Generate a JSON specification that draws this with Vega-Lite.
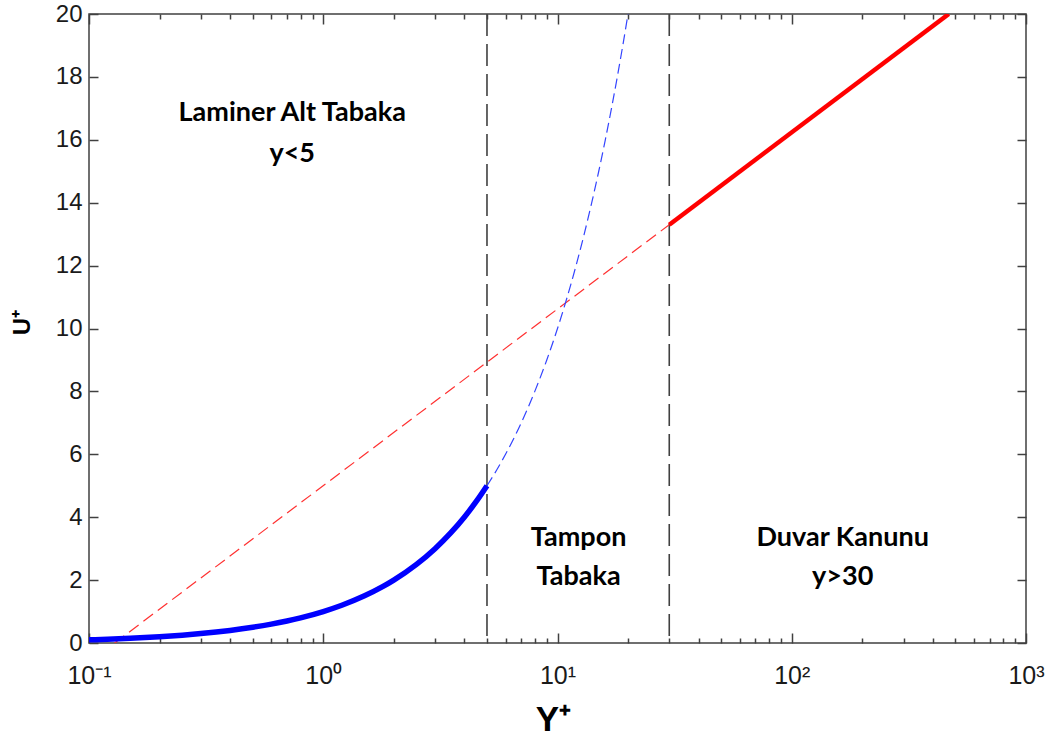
{
  "$schema": "https://vega.github.io/schema/vega-lite/v6.json",
  "width": 937,
  "height": 629,
  "autosize": {"type": "none"},
  "padding": {"left": 89, "top": 14, "right": 26, "bottom": 95},
  "background": "white",
  "config": {
    "view": {"stroke": "#404040", "strokeWidth": 1.5},
    "axis": {
      "domain": false,
      "grid": false,
      "tickColor": "#404040",
      "tickWidth": 1.5,
      "labelFont": "Liberation Sans",
      "labelFontSize": 24,
      "labelColor": "#1a1a1a",
      "titleFont": "Liberation Sans",
      "titleFontWeight": "bold",
      "titleColor": "#000000"
    }
  },
  "resolve": {"axis": {"x": "independent", "y": "independent"}},
  "datasets": {
    "viscous": [
      {"yplus": 0.1, "uplus": 0.1}, {"yplus": 0.12, "uplus": 0.12}, {"yplus": 0.15, "uplus": 0.15},
      {"yplus": 0.2, "uplus": 0.2}, {"yplus": 0.25, "uplus": 0.25}, {"yplus": 0.3, "uplus": 0.3},
      {"yplus": 0.4, "uplus": 0.4}, {"yplus": 0.5, "uplus": 0.5}, {"yplus": 0.6, "uplus": 0.6},
      {"yplus": 0.7, "uplus": 0.7}, {"yplus": 0.8, "uplus": 0.8}, {"yplus": 1, "uplus": 1},
      {"yplus": 1.2, "uplus": 1.2}, {"yplus": 1.5, "uplus": 1.5}, {"yplus": 1.8, "uplus": 1.8},
      {"yplus": 2, "uplus": 2}, {"yplus": 2.5, "uplus": 2.5}, {"yplus": 3, "uplus": 3},
      {"yplus": 3.5, "uplus": 3.5}, {"yplus": 4, "uplus": 4}, {"yplus": 4.5, "uplus": 4.5},
      {"yplus": 5, "uplus": 5}
    ],
    "viscousExt": [
      {"yplus": 5, "uplus": 5}, {"yplus": 5.5, "uplus": 5.5}, {"yplus": 6, "uplus": 6},
      {"yplus": 7, "uplus": 7}, {"yplus": 8, "uplus": 8}, {"yplus": 9, "uplus": 9},
      {"yplus": 10, "uplus": 10}, {"yplus": 11, "uplus": 11}, {"yplus": 12, "uplus": 12},
      {"yplus": 13, "uplus": 13}, {"yplus": 14, "uplus": 14}, {"yplus": 15, "uplus": 15},
      {"yplus": 16, "uplus": 16}, {"yplus": 17, "uplus": 17}, {"yplus": 18, "uplus": 18},
      {"yplus": 19, "uplus": 19}, {"yplus": 20, "uplus": 20}
    ],
    "logExt": [
      {"yplus": 0.1287, "uplus": 0},
      {"yplus": 30, "uplus": 13.3}
    ],
    "logLaw": [
      {"yplus": 30, "uplus": 13.3},
      {"yplus": 468, "uplus": 20}
    ],
    "bounds": [
      {"yplus": 5},
      {"yplus": 30}
    ],
    "labels": [
      {"yplus": 0.737, "uplus": 16.85, "text": "Laminer Alt Tabaka"},
      {"yplus": 0.737, "uplus": 15.55, "text": "y<5"},
      {"yplus": 12.3, "uplus": 3.35, "text": "Tampon"},
      {"yplus": 12.3, "uplus": 2.1, "text": "Tabaka"},
      {"yplus": 165, "uplus": 3.35, "text": "Duvar Kanunu"},
      {"yplus": 165, "uplus": 2.1, "text": "y>30"}
    ]
  },
  "layer": [
    {
      "data": {"name": "bounds"},
      "mark": {"type": "rule", "color": "#404040", "strokeWidth": 1.6, "strokeDash": [22, 8]},
      "encoding": {
        "x": {
          "field": "yplus", "type": "quantitative",
          "scale": {"type": "log", "domain": [0.1, 1000], "nice": false},
          "axis": {
            "orient": "bottom",
            "offset": -10,
            "tickSize": 10,
            "title": "Y⁺",
            "titleFontSize": 35,
            "titleX": 464,
            "titleY": 97,
            "titleAlign": "center",
            "titleBaseline": "alphabetic",
            "values": [0.1, 1, 10, 100, 1000],
            "labelExpr": "datum.value == 0.1 ? '10⁻¹' : datum.value == 1 ? '10⁰' : datum.value == 10 ? '10¹' : datum.value == 100 ? '10²' : '10³'",
            "labelBaseline": "alphabetic",
            "labelPadding": 40,
            "labelFontSize": 25,
            "labelOverlap": false,
            "labelFlush": false
          }
        }
      }
    },
    {
      "data": {"name": "bounds"},
      "mark": {"type": "rule", "opacity": 0},
      "encoding": {
        "x": {
          "field": "yplus", "type": "quantitative",
          "axis": {
            "orient": "bottom",
            "offset": -5,
            "tickSize": 5,
            "title": null,
            "labels": false,
            "values": [0.2,0.3,0.4,0.5,0.6,0.7,0.8,0.9,2,3,4,5,6,7,8,9,20,30,40,50,60,70,80,90,200,300,400,500,600,700,800,900]
          }
        }
      }
    },
    {
      "data": {"name": "bounds"},
      "mark": {"type": "rule", "opacity": 0},
      "encoding": {
        "x": {
          "field": "yplus", "type": "quantitative",
          "axis": {
            "orient": "top",
            "offset": -10,
            "tickSize": 10,
            "title": null,
            "labels": false,
            "values": [0.1, 1, 10, 100, 1000]
          }
        }
      }
    },
    {
      "data": {"name": "bounds"},
      "mark": {"type": "rule", "opacity": 0},
      "encoding": {
        "x": {
          "field": "yplus", "type": "quantitative",
          "axis": {
            "orient": "top",
            "offset": -5,
            "tickSize": 5,
            "title": null,
            "labels": false,
            "values": [0.2,0.3,0.4,0.5,0.6,0.7,0.8,0.9,2,3,4,5,6,7,8,9,20,30,40,50,60,70,80,90,200,300,400,500,600,700,800,900]
          }
        }
      }
    },
    {
      "data": {"name": "logExt"},
      "mark": {"type": "line", "color": "#ff3030", "strokeWidth": 1.2, "strokeDash": [12, 6], "clip": true},
      "encoding": {
        "x": {"field": "yplus", "type": "quantitative", "axis": null},
        "y": {
          "field": "uplus", "type": "quantitative",
          "scale": {"domain": [0, 20], "nice": false},
          "axis": {
            "orient": "left",
            "offset": -9,
            "tickSize": 9,
            "labelPadding": 7,
            "title": "U⁺",
            "titleFontSize": 24,
            "titleAngle": -90,
            "titleX": -76,
            "titleY": 308,
            "titleAlign": "center",
            "titleBaseline": "middle",
            "values": [0,2,4,6,8,10,12,14,16,18,20]
          }
        }
      }
    },
    {
      "data": {"name": "logLaw"},
      "mark": {"type": "line", "color": "#ff0000", "strokeWidth": 4.5, "clip": true},
      "encoding": {
        "x": {"field": "yplus", "type": "quantitative", "axis": null},
        "y": {
          "field": "uplus", "type": "quantitative",
          "axis": {
            "orient": "right",
            "offset": -9,
            "tickSize": 9,
            "title": null,
            "labels": false,
            "values": [0,2,4,6,8,10,12,14,16,18,20]
          }
        }
      }
    },
    {
      "data": {"name": "viscousExt"},
      "mark": {"type": "line", "color": "#3344ff", "strokeWidth": 1.2, "strokeDash": [10, 5], "interpolate": "monotone", "clip": true},
      "encoding": {
        "x": {"field": "yplus", "type": "quantitative", "axis": null},
        "y": {"field": "uplus", "type": "quantitative", "axis": null}
      }
    },
    {
      "data": {"name": "viscous"},
      "mark": {"type": "line", "color": "#0000ff", "strokeWidth": 5.5, "interpolate": "monotone", "clip": true},
      "encoding": {
        "x": {"field": "yplus", "type": "quantitative", "axis": null},
        "y": {"field": "uplus", "type": "quantitative", "axis": null}
      }
    },
    {
      "data": {"name": "labels"},
      "mark": {"type": "text", "font": "Lato", "fontWeight": "bold", "fontSize": 27, "color": "#000000", "align": "center", "baseline": "middle"},
      "encoding": {
        "x": {"field": "yplus", "type": "quantitative", "axis": null},
        "y": {"field": "uplus", "type": "quantitative", "axis": null},
        "text": {"field": "text", "type": "nominal"}
      }
    }
  ]
}
